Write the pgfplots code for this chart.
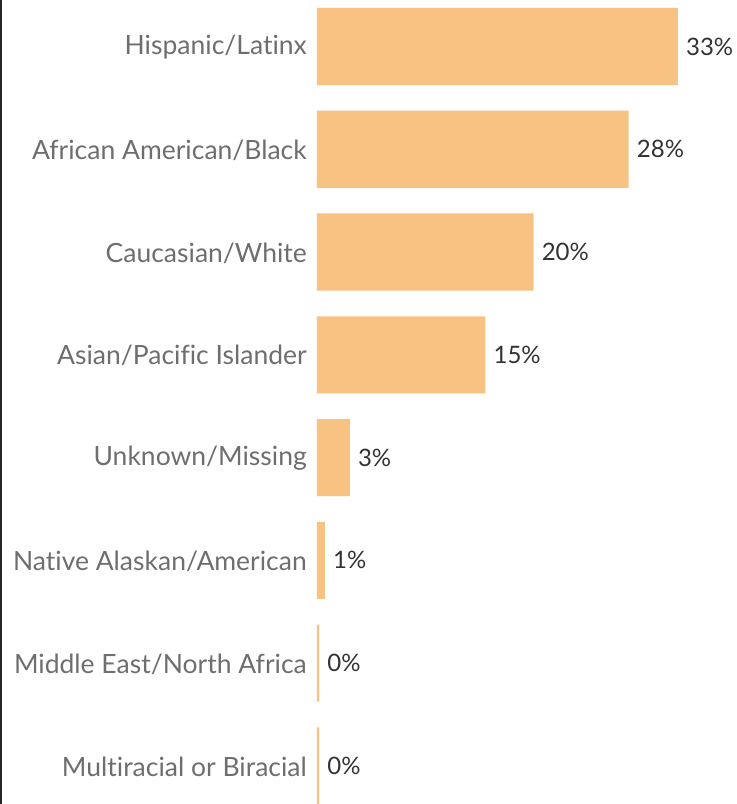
\documentclass[border=0pt]{standalone}
\usepackage{pgfplots}
\pgfplotsset{compat=1.18}
\usepackage{fontspec}
\setmainfont{Lato}[Ligatures={NoCommon}]
\definecolor{barc}{HTML}{F8C283}
\definecolor{labc}{HTML}{6E6E6E}
\definecolor{valc}{HTML}{333333}
\begin{document}
\begin{tikzpicture}
\begin{axis}[
  name=ax,
  scale only axis,
  width=420bp, height=804bp,
  xbar, bar width=0.75,
  xmin=0, xmax=38.4,
  ymin=-0.452, ymax=7.37,
  y dir=reverse,
  axis line style={draw=none},
  major tick length=0pt,
  xtick=\empty,
  ytick={0,...,7},
  yticklabels={Hispanic/Latinx,African American/Black,Caucasian/White,Asian/Pacific Islander,Unknown/Missing,Native Alaskan/American,Middle East/North Africa,Multiracial or Biracial},
  yticklabel style={font=\fontsize{26.5bp}{30bp}\selectfont, text=labc, inner sep=0pt, xshift=-10bp, yshift=-1bp},
  point meta=explicit symbolic,
  nodes near coords,
  nodes near coords style={font=\fontsize{24bp}{28bp}\selectfont, text=valc, anchor=west, inner sep=0pt, xshift=8bp},
  clip=false,
]
\addplot[fill=barc, draw=none] table[meta=lab] {
x y lab
33.0 0 33\%
28.5 1 28\%
19.8 2 20\%
15.4 3 15\%
3.0 4 3\%
0.73 5 1\%
0.2 6 0\%
0.2 7 0\%
};
\end{axis}
\fill[black!85] ([xshift=-317bp]ax.south west) rectangle ([xshift=-315bp]ax.north west);
\pgfresetboundingbox
\path[use as bounding box] ([xshift=-317bp]ax.south west) rectangle (ax.north east);
\end{tikzpicture}
\end{document}
